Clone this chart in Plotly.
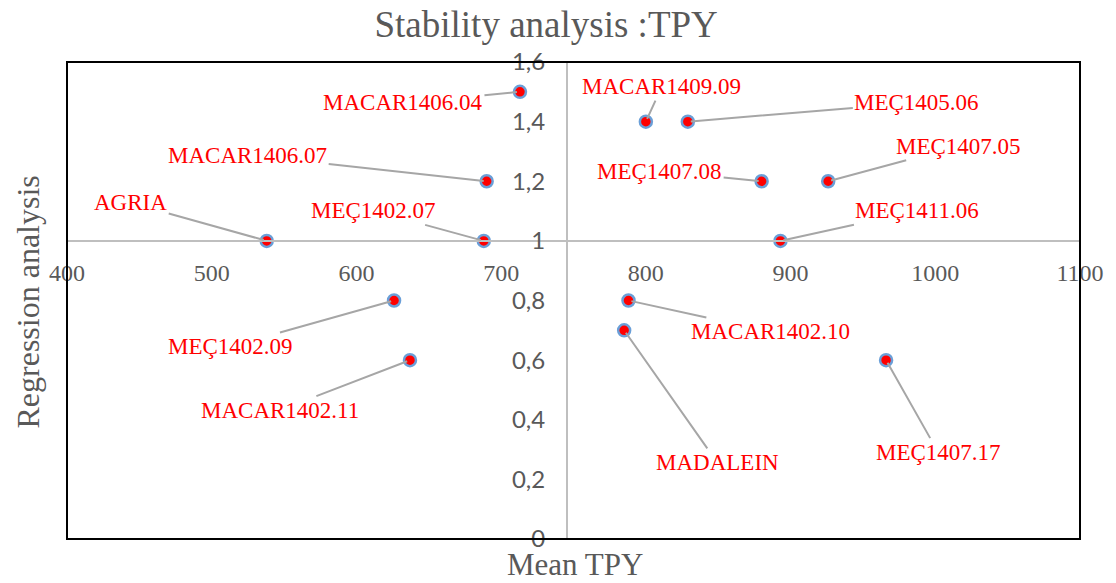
import plotly.graph_objects as go

# ---- data ----
genotypes = ["MACAR1406.04", "MACAR1409.09", "MEÇ1405.06", "MACAR1406.07", "MEÇ1407.08",
             "MEÇ1407.05", "AGRIA", "MEÇ1402.07", "MEÇ1411.06", "MEÇ1402.09",
             "MACAR1402.10", "MADALEIN", "MACAR1402.11", "MEÇ1407.17"]
mean_tpy = [713, 800, 829, 690, 880, 926, 538, 688, 893, 626, 788, 785, 637, 966]
regression = [1.5, 1.4, 1.4, 1.2, 1.2, 1.2, 1.0, 1.0, 1.0, 0.8, 0.8, 0.7, 0.6, 0.6]

# label offsets (pixels) from each point
label_dx = [-117, 16, 229, -239, -102, 130, -136, -110, 137, -164, 142, 93, -130, 52]
label_dy = [11, -35, -19, -26, -10, -35, -38, -30, -30, 46, 31, 132, 50, 92]

x_ticks = [400, 500, 600, 700, 800, 900, 1000, 1100]
x_ticktext = ["400", "500", "600", "700", "800", "900", "1000", "1100"]
y_ticks = [0, 0.2, 0.4, 0.6, 0.8, 1.0, 1.2, 1.4, 1.6]
y_ticktext = ["0", "0,2", "0,4", "0,6", "0,8", "1", "1,2", "1,4", "1,6"]

x_range = [400, 1100]
y_range = [0, 1.6]
x_cross = 745.5   # vertical axis crosses here
y_cross = 1.0     # horizontal axis crosses here

GRAY = "#595959"
AXIS = "#bfbfbf"

fig = go.Figure()
fig.add_trace(go.Scatter(
    x=mean_tpy, y=regression, mode="markers",
    marker=dict(size=12, color="#ff0000", line=dict(color="#6a9fd8", width=2.5)),
    text=genotypes, hoverinfo="text", showlegend=False, cliponaxis=False,
))

annotations = []
for name, xv, yv, dx, dy in zip(genotypes, mean_tpy, regression, label_dx, label_dy):
    annotations.append(dict(
        x=xv, y=yv, xref="x", yref="y", text=name, showarrow=True,
        ax=dx, ay=dy, arrowhead=0, arrowwidth=2, arrowcolor="#a6a6a6", standoff=3,
        font=dict(family="Liberation Serif", size=23, color="#ff0000"),
    ))

annotations.append(dict(
    text="Mean TPY", xref="paper", yref="paper", x=0.5, y=-0.054, yanchor="middle",
    xanchor="center", showarrow=False, xshift=1,
    font=dict(family="Liberation Serif", size=31, color=GRAY)))
annotations.append(dict(
    text="Regression analysis", xref="paper", yref="paper", x=0, y=0.5, xshift=-40,
    yshift=-2, xanchor="center", yanchor="middle", showarrow=False, textangle=-90,
    font=dict(family="Liberation Serif", size=32, color=GRAY)))

fig.update_layout(
    width=1116, height=583,
    margin=dict(l=67, r=31, t=62, b=44),
    paper_bgcolor="white", plot_bgcolor="white",
    title=dict(text="Stability analysis :TPY", x=0.473, xanchor="center", y=0.958, yanchor="middle",
               xref="paper", font=dict(family="Liberation Serif", size=37, color=GRAY)),
    xaxis=dict(range=x_range, tickvals=x_ticks, ticktext=x_ticktext, showgrid=False,
               zeroline=False, showline=True, linecolor=AXIS, linewidth=2,
               anchor="free", position=(y_cross - y_range[0]) / (y_range[1] - y_range[0]),
               ticks="", ticklabelstandoff=10,
               tickfont=dict(family="Liberation Serif", size=24, color=GRAY)),
    yaxis=dict(range=y_range, tickvals=y_ticks, ticktext=y_ticktext, showgrid=False,
               zeroline=False, showline=True, linecolor=AXIS, linewidth=2,
               anchor="free", position=(x_cross - x_range[0]) / (x_range[1] - x_range[0]),
               ticks="", ticklabelstandoff=16,
               tickfont=dict(family="Lato", size=24, color=GRAY)),
    annotations=annotations,
    shapes=[dict(type="rect", xref="paper", yref="paper", x0=0, y0=0, x1=1, y1=1,
                 line=dict(color="black", width=2), layer="above")],
)

fig.write_html("out.html")
